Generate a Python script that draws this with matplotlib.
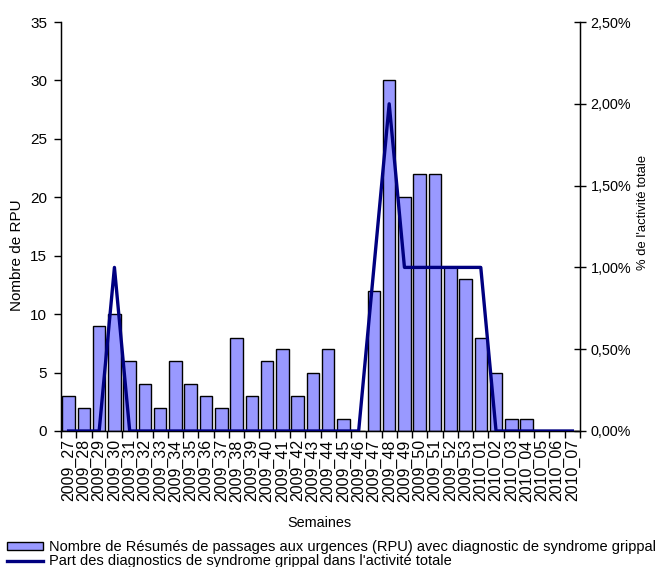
import matplotlib
matplotlib.use("Agg")
import matplotlib.pyplot as plt
import numpy as np
from matplotlib.patches import Patch
from matplotlib.lines import Line2D
from matplotlib.ticker import FuncFormatter

plt.rcParams["font.family"] = ["Liberation Sans", "DejaVu Sans"]

# weekly data
weeks = [f"2009_{w}" for w in range(27, 54)] + [f"2010_{w:02d}" for w in range(1, 8)]
rpu_counts = [3, 2, 9, 10, 6, 4, 2, 6, 4, 3, 2, 8, 3, 6, 7, 3, 5, 7, 1, 0,
              12, 30, 20, 22, 22, 14, 13, 8, 5, 1, 1, 0, 0, 0]
share_pct = [0, 0, 0, 1.0, 0, 0, 0, 0, 0, 0, 0, 0, 0, 0, 0, 0, 0, 0, 0, 0,
             1.0, 2.0, 1.0, 1.0, 1.0, 1.0, 1.0, 1.0, 0, 0, 0, 0, 0, 0]

bar_label = "Nombre de Résumés de passages aux urgences (RPU) avec diagnostic de syndrome grippal"
line_label = "Part des diagnostics de syndrome grippal dans l'activité totale"

BAR_COLOR = "#9999FF"
LINE_COLOR = "#000080"
W, H = 656, 567

fig = plt.figure(figsize=(W / 100, H / 100), dpi=100)
ax = fig.add_axes([61 / W, 1 - 431 / H, 519 / W, 409 / H])
ax2 = ax.twinx()

x = np.arange(len(weeks))
ax.bar(x, rpu_counts, width=0.82, color=BAR_COLOR, edgecolor="black", linewidth=1.0, zorder=2)
ax2.plot(x, np.array(share_pct) / 100, color=LINE_COLOR, linewidth=2.4, zorder=3)

ax.set_xlim(-0.5, len(weeks) - 0.5)
ax.set_ylim(0, 35)
ax.set_yticks(range(0, 36, 5))
ax2.set_ylim(0, 0.025)
ax2.set_yticks(np.arange(0, 0.0251, 0.005))
ax2.yaxis.set_major_formatter(FuncFormatter(lambda v, p: f"{v * 100:.2f}%".replace(".", ",")))

# labels on category centres, tick marks on category boundaries
ax.set_xticks(x)
ax.set_xticklabels(weeks, rotation=90, fontsize=11.5)
ax.tick_params(axis="x", length=0, pad=6)
ax.set_xticks(np.arange(-0.5, len(weeks), 1), minor=True)
ax.tick_params(axis="x", which="minor", length=5, width=1, direction="out")

ax.tick_params(axis="y", labelsize=11, length=5, width=1, direction="out", pad=5)
ax2.tick_params(axis="y", labelsize=10.4, length=9, width=1, direction="inout", pad=3)

ax.spines["top"].set_visible(False)
ax2.spines["top"].set_visible(False)
ax2.spines["right"].set_linewidth(1)
ax.spines["left"].set_linewidth(1)
ax.spines["bottom"].set_linewidth(1)

fig.text(17 / W, 1 - 255 / H, "Nombre de RPU", rotation=90, ha="center", va="center", fontsize=11)
fig.text(643 / W, 1 - 212 / H, "% de l'activité totale", rotation=90, ha="center", va="center", fontsize=9.4)
fig.text(319 / W, 1 - 523 / H, "Semaines", ha="center", va="center", fontsize=10.4)

handles = [
    Patch(facecolor=BAR_COLOR, edgecolor="black", linewidth=1.0),
    Line2D([0], [0], color=LINE_COLOR, linewidth=2.4),
]
fig.legend(handles, [bar_label, line_label], loc="upper left",
           bbox_to_anchor=(7 / W, 1 - 540 / H), frameon=False, fontsize=10.5,
           borderpad=0, handlelength=2.45, handleheight=0.42, handletextpad=0.4,
           labelspacing=0.02, borderaxespad=0)

fig.savefig("out.png", dpi=100)
